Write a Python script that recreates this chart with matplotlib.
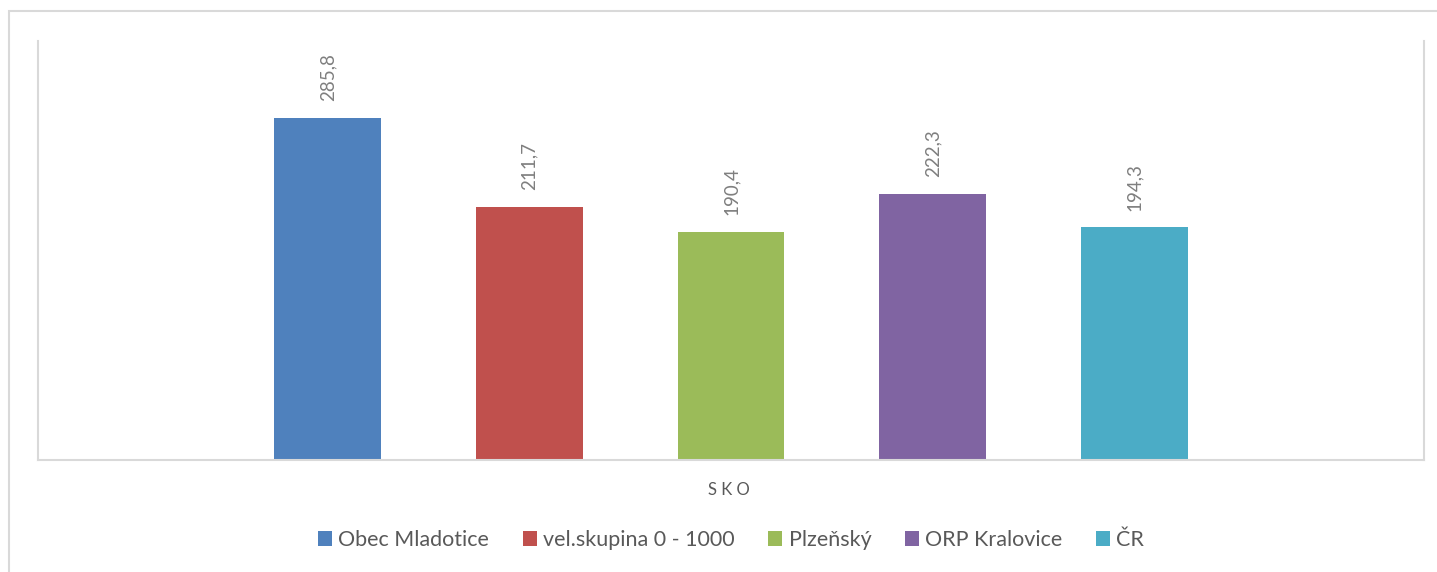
import matplotlib.pyplot as plt
from matplotlib.patches import Rectangle

# data
series = ['Obec Mladotice', 'vel.skupina 0 - 1000', 'Plzeňský', 'ORP Kralovice', 'ČR']
values = [285.8, 211.7, 190.4, 222.3, 194.3]
labels = ['285,8', '211,7', '190,4', '222,3', '194,3']
category = 'SKO'
colors = ['#4f81bd', '#c0504d', '#9bbb59', '#8064a2', '#4bacc6']

plt.rcParams['font.family'] = ['Lato', 'DejaVu Sans']

W, H = 1437, 572
fig = plt.figure(figsize=(W / 100, H / 100), dpi=100)

# outer chart border (right and bottom run off the picture)
fig.patches.append(Rectangle((9 / W, -0.1), 1.2, 1.1 - 11 / H, transform=fig.transFigure,
                             fill=False, edgecolor='#d9d9d9', linewidth=1.5))

ax = fig.add_axes([38 / W, 1 - 460 / H, 1386 / W, (460 - 41) / H])

step = 0.1455
width = 0.0772
for i, (name, v) in enumerate(zip(series, values)):
    x = (i - 2) * step
    ax.bar(x, v, width=width, color=colors[i], label=name)
    ax.annotate(labels[i], (x, v), xytext=(0, 12), textcoords='offset points',
                rotation=90, ha='center', va='bottom', fontsize=13.5, color='#7f7f7f')

ax.set_xlim(-0.5, 0.5)
ax.set_ylim(0, 350)
ax.set_xticks([])
ax.set_yticks([])
ax.spines['top'].set_visible(False)
for s in ['left', 'right', 'bottom']:
    ax.spines[s].set_color('#d9d9d9')
    ax.spines[s].set_linewidth(1.5)

fig.text(729 / W, 1 - 490 / H, 'S K O', ha='center', va='center', fontsize=12, color='#595959')

fig.legend(loc='center', bbox_to_anchor=(731 / W, 1 - 540 / H), ncol=5, frameon=False,
           fontsize=15.5, handlelength=0.65, handleheight=0.65, handletextpad=0.3,
           columnspacing=1.55, labelcolor='#595959')

fig.savefig('out.png', dpi=100)
